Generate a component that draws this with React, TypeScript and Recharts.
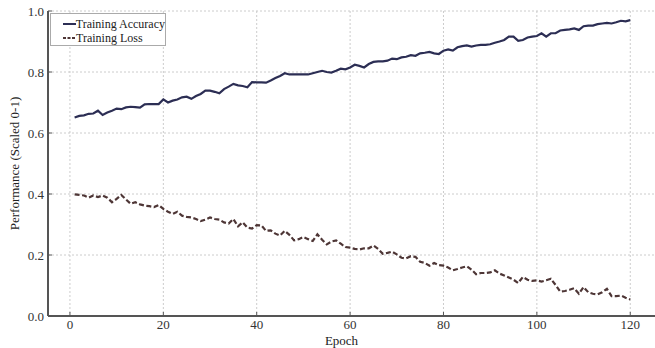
import React from 'react';
import {
  LineChart, Line, XAxis, YAxis, CartesianGrid, Legend, Label
} from 'recharts';

const SERIF = '"Liberation Serif", "DejaVu Serif", serif';
const AXIS = '#555555';

// epochs 1..120
const epochs = Array.from({ length: 120 }, (_, i) => i + 1);

const accuracy = [
  0.651, 0.656, 0.658, 0.663, 0.664, 0.673, 0.659, 0.667, 0.673, 0.680,
  0.678, 0.684, 0.686, 0.685, 0.683, 0.694, 0.695, 0.695, 0.695, 0.710,
  0.700, 0.706, 0.710, 0.717, 0.719, 0.712, 0.721, 0.728, 0.739, 0.739,
  0.735, 0.730, 0.744, 0.752, 0.761, 0.756, 0.754, 0.750, 0.767, 0.766,
  0.766, 0.765, 0.772, 0.780, 0.787, 0.796, 0.792, 0.792, 0.792, 0.792,
  0.792, 0.796, 0.800, 0.804, 0.800, 0.798, 0.804, 0.811, 0.809, 0.815,
  0.824, 0.820, 0.815, 0.826, 0.833, 0.835, 0.835, 0.837, 0.844, 0.842,
  0.848, 0.850, 0.855, 0.853, 0.861, 0.863, 0.866, 0.861, 0.859, 0.870,
  0.874, 0.870, 0.881, 0.885, 0.887, 0.883, 0.887, 0.889, 0.889, 0.891,
  0.896, 0.900, 0.905, 0.916, 0.916, 0.902, 0.905, 0.913, 0.916, 0.918,
  0.927, 0.916, 0.927, 0.927, 0.936, 0.938, 0.940, 0.943, 0.938, 0.950,
  0.952, 0.952, 0.957, 0.959, 0.961, 0.959, 0.963, 0.968, 0.966, 0.970,
];

const loss = [
  0.399, 0.397, 0.395, 0.388, 0.395, 0.390, 0.395, 0.388, 0.373, 0.384,
  0.397, 0.382, 0.368, 0.373, 0.366, 0.362, 0.360, 0.357, 0.364, 0.351,
  0.342, 0.335, 0.342, 0.329, 0.325, 0.323, 0.318, 0.311, 0.316, 0.323,
  0.318, 0.316, 0.307, 0.303, 0.318, 0.294, 0.307, 0.290, 0.287, 0.298,
  0.297, 0.279, 0.281, 0.270, 0.264, 0.279, 0.266, 0.248, 0.252, 0.259,
  0.252, 0.246, 0.268, 0.250, 0.235, 0.244, 0.248, 0.237, 0.226, 0.224,
  0.220, 0.218, 0.222, 0.222, 0.231, 0.220, 0.204, 0.207, 0.211, 0.202,
  0.191, 0.189, 0.196, 0.194, 0.178, 0.174, 0.165, 0.174, 0.167, 0.165,
  0.159, 0.150, 0.154, 0.159, 0.163, 0.152, 0.137, 0.141, 0.141, 0.143,
  0.150, 0.139, 0.133, 0.126, 0.119, 0.108, 0.128, 0.119, 0.115, 0.117,
  0.113, 0.117, 0.122, 0.102, 0.080, 0.082, 0.086, 0.091, 0.073, 0.095,
  0.078, 0.073, 0.071, 0.078, 0.089, 0.065, 0.065, 0.067, 0.060, 0.054,
];

const xTicks = [0, 20, 40, 60, 80, 100, 120];
const yTicks = [0, 0.2, 0.4, 0.6, 0.8, 1.0];

const SERIES = [
  { key: 'accuracy', name: 'Training Accuracy', color: '#2c2e54', dash: undefined as string | undefined },
  { key: 'loss', name: 'Training Loss', color: '#4e3636', dash: '5 2.5' },
];

const data = epochs.map((e, i) => ({ epoch: e, accuracy: accuracy[i], loss: loss[i] }));

const XTick = ({ x, y, payload }: any) => (
  <g>
    <line x1={x} x2={x} y1={y} y2={y - 4} stroke={AXIS} strokeWidth={1} />
    <text x={x} y={y + 13} textAnchor="middle" fill="#333" fontSize={13} fontFamily={SERIF}>
      {payload.value}
    </text>
  </g>
);

const YTick = ({ x, y, payload }: any) => (
  <g>
    <line x1={x} x2={x + 4} y1={y} y2={y} stroke={AXIS} strokeWidth={1} />
    <text x={x - 4} y={y + 4.5} textAnchor="end" fill="#333" fontSize={13} fontFamily={SERIF}>
      {Number(payload.value).toFixed(1)}
    </text>
  </g>
);

const renderLegend = () => (
  <div
    style={{
      width: 116, height: 33, boxSizing: 'border-box', border: '1px solid #aaa',
      background: '#fff', padding: '3px 0 0 12px', fontFamily: SERIF, fontSize: 12, color: '#222',
    }}
  >
    {SERIES.map((s) => (
      <div key={s.key} style={{ display: 'flex', alignItems: 'center', height: 14, whiteSpace: 'nowrap' }}>
        <svg width={13} height={6} style={{ display: 'block' }}>
          <line x1={0} x2={13} y1={3} y2={3} stroke={s.color} strokeWidth={2} strokeDasharray={s.dash ? '3 1.5' : undefined} />
        </svg>
        <span>{s.name}</span>
      </div>
    ))}
  </div>
);

export default function App() {
  return (
    <div style={{ position: 'absolute', left: 0, top: 0, width: 655, height: 348, background: '#fff' }}>
      <LineChart width={655} height={348} data={data} margin={{ top: 11, right: 0, bottom: 0, left: 0 }}>
        <CartesianGrid stroke="#cccccc" strokeDasharray="2 2" horizontalValues={yTicks} verticalValues={xTicks} />
        <XAxis
          dataKey="epoch"
          type="number"
          domain={[-4.7, 125.3]}
          ticks={xTicks}
          allowDataOverflow
          height={32}
          tickLine={false}
          tickSize={0}
          tickMargin={0}
          tick={<XTick />}
          axisLine={{ stroke: AXIS, strokeWidth: 2 }}
        >
          <Label value="Epoch" position="insideBottom" offset={3} dx={-10} fontSize={13} fontFamily={SERIF} fill="#222" />
        </XAxis>
        <YAxis
          type="number"
          domain={[0, 1]}
          ticks={yTicks}
          width={48}
          tickLine={false}
          tickSize={0}
          tickMargin={0}
          tick={<YTick />}
          axisLine={{ stroke: AXIS, strokeWidth: 2 }}
        >
          <Label value="Performance (Scaled 0-1)" position="center" angle={-90} dx={-10} fontSize={13} fontFamily={SERIF} fill="#222" />
        </YAxis>
        <Legend
          layout="vertical"
          verticalAlign="middle"
          align="center"
          content={renderLegend}
          wrapperStyle={{ top: 13, left: 50, width: 116, height: 33 }}
        />
        {SERIES.map((s) => (
          <Line
            key={s.key}
            type="linear"
            dataKey={s.key}
            name={s.name}
            stroke={s.color}
            strokeWidth={2.2}
            strokeDasharray={s.dash}
            dot={false}
            activeDot={false}
            isAnimationActive={false}
          />
        ))}
      </LineChart>
    </div>
  );
}
